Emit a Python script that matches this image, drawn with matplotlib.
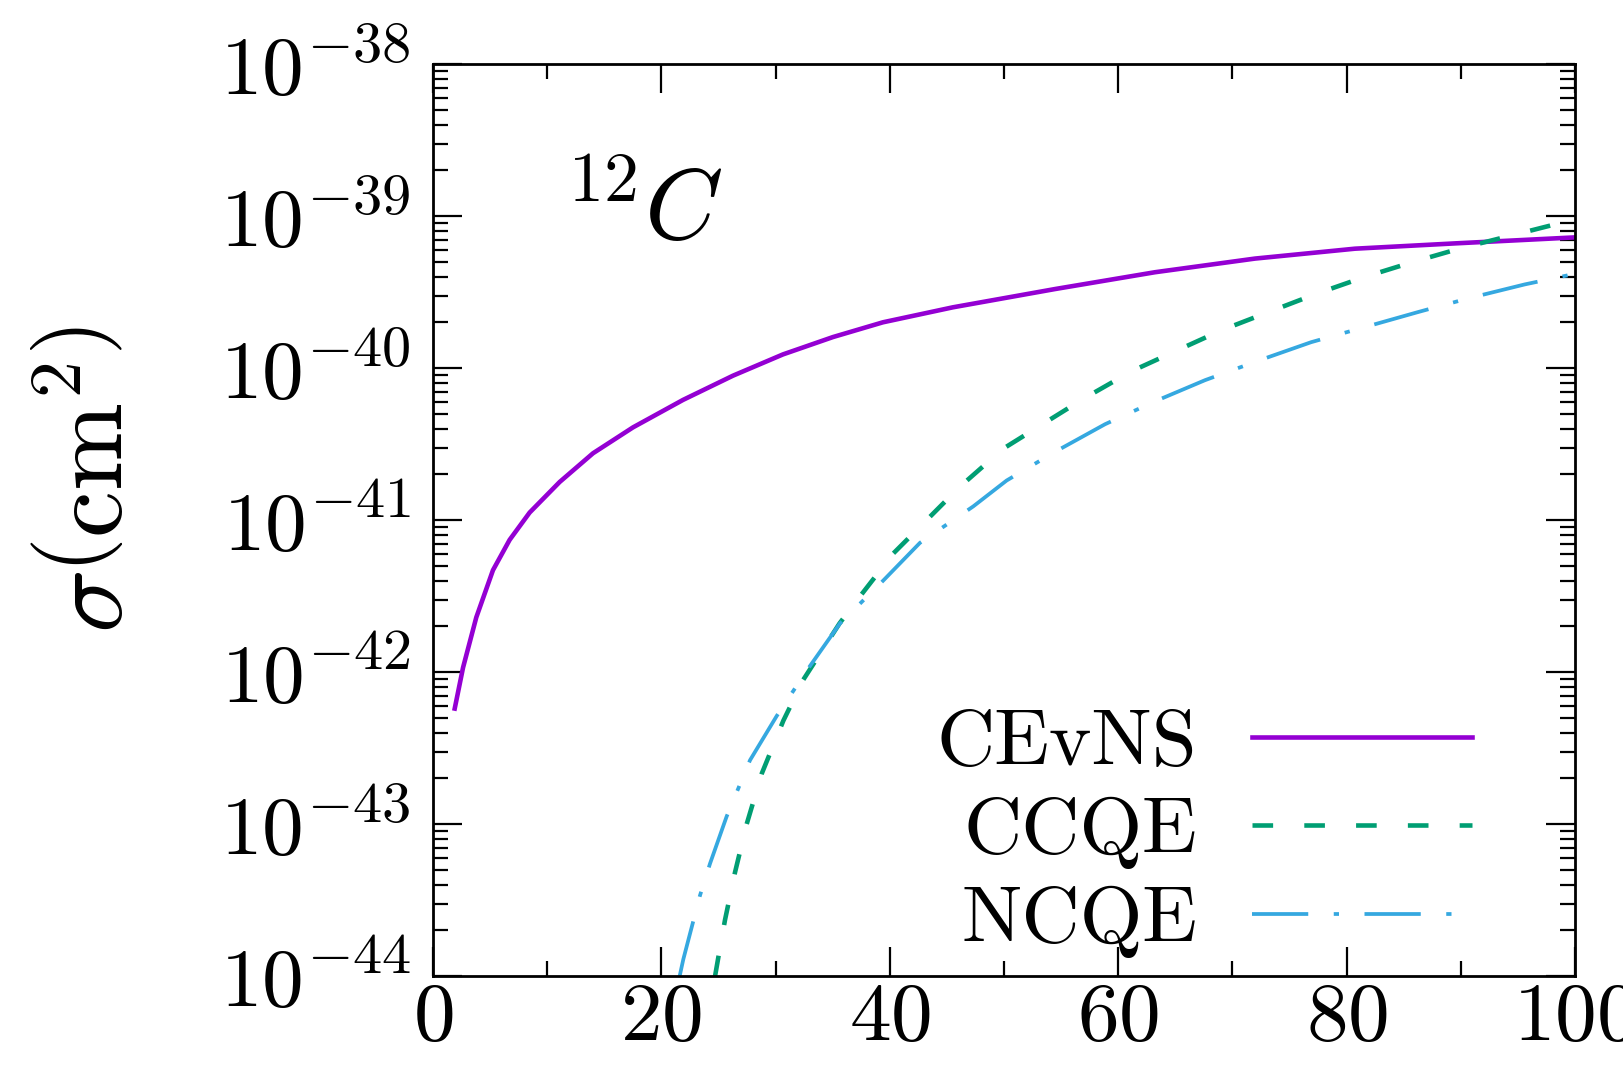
import numpy as np
import matplotlib
matplotlib.use("Agg")
import matplotlib.pyplot as plt
from matplotlib.ticker import MultipleLocator, LogLocator, NullFormatter

plt.rcParams['font.family'] = 'serif'
plt.rcParams['font.serif'] = ['cmr10']
plt.rcParams['mathtext.fontset'] = 'cm'
plt.rcParams['axes.formatter.use_mathtext'] = True
plt.rcParams['axes.unicode_minus'] = True

# neutrino energy (MeV) and cross sections (cm^2) on carbon-12
e_cevns = [1.9, 2.63, 3.79, 5.25, 6.71, 8.46, 11.09, 14.01, 17.51, 21.89,
           26.27, 30.65, 35.03, 39.4, 45.53, 54.47, 63.22, 71.97, 80.73,
           89.49, 100.0]
s_cevns = [5.75e-43, 1.07e-42, 2.29e-42, 4.68e-42, 7.41e-42, 1.12e-41,
           1.78e-41, 2.75e-41, 4.07e-41, 6.17e-41, 8.91e-41, 1.23e-40,
           1.6e-40, 2.0e-40, 2.51e-40, 3.31e-40, 4.27e-40, 5.25e-40,
           6.1e-40, 6.61e-40, 7.24e-40]

e_ccqe = [24.7, 24.98, 25.57, 26.44, 27.47, 28.78, 30.68, 32.43, 35.6, 37.1,
          40.31, 43.23, 46.15, 49.94, 57.0, 61.2, 65.0, 69.1, 73.2, 77.4,
          81.6, 85.9, 90.1, 94.3, 98.5, 100.0]
s_ccqe = [1.0e-44, 1.32e-44, 2.34e-44, 4.79e-44, 1.0e-43, 2.14e-43, 4.79e-43,
          8.91e-43, 2.09e-42, 2.95e-42, 6.03e-42, 1.0e-41, 1.66e-41,
          2.95e-41, 6.31e-41, 9.55e-41, 1.29e-40, 1.78e-40, 2.34e-40,
          3.09e-40, 3.98e-40, 5.01e-40, 6.17e-40, 7.41e-40, 8.91e-40,
          9.33e-40]

e_ncqe = [21.6, 21.92, 23.38, 24.26, 25.71, 27.76, 30.09, 32.72, 35.64,
          39.14, 42.64, 47.31, 50.23, 54.5, 58.85, 63.2, 67.6, 72.3, 76.9,
          81.6, 86.3, 90.7, 95.6, 100.0]
s_ncqe = [1.0e-44, 1.29e-44, 3.39e-44, 5.5e-44, 1.12e-43, 2.63e-43, 5.13e-43,
          1.02e-42, 2.09e-42, 3.8e-42, 7.08e-42, 1.23e-41, 1.82e-41,
          2.82e-41, 4.27e-41, 6.03e-41, 8.32e-41, 1.12e-40, 1.48e-40,
          1.86e-40, 2.34e-40, 2.88e-40, 3.55e-40, 4.17e-40]

fig = plt.figure(figsize=(16.23, 10.66), dpi=100)
ax = fig.add_axes([0.2668, 0.0844, 0.7036, 0.8555])

ax.plot(e_cevns, s_cevns, color='#9400D3', lw=3.3, label='CEvNS')
ax.plot(e_ccqe, s_ccqe, color='#009E73', lw=3.3, dashes=(4.5, 6.8),
        label='CCQE')
ax.plot(e_ncqe, s_ncqe, color='#35A8E0', lw=2.7, dashes=(15, 6.8, 1.4, 6.8),
        label='NCQE')

ax.set_yscale('log')
ax.set_xlim(0, 100)
ax.set_ylim(1e-44, 1e-38)

ax.xaxis.set_major_locator(MultipleLocator(20))
ax.xaxis.set_minor_locator(MultipleLocator(10))
ax.yaxis.set_major_locator(LogLocator(base=10, numticks=20))
ax.yaxis.set_minor_locator(LogLocator(base=10, subs=np.arange(2, 10), numticks=100))
ax.yaxis.set_minor_formatter(NullFormatter())

ax.tick_params(which='both', direction='in', top=True, right=True)
ax.tick_params(which='major', length=21, width=1.6, labelsize=60)
ax.tick_params(which='minor', length=11, width=1.6)
ax.tick_params(axis='x', which='major', pad=5)
ax.tick_params(axis='y', which='major', pad=16)
for sp in ax.spines.values():
    sp.set_linewidth(2.0)

ax.set_ylabel(r'$\sigma\left(\mathrm{cm}^2\right)$', fontsize=76)
ax.yaxis.set_label_coords(-0.255, 0.545)

ax.text(0.115, 0.807, r'$^{12}C$', fontsize=72, transform=ax.transAxes,
        va='baseline')

ax.legend(loc='lower right', bbox_to_anchor=(0.91, 0.02), frameon=False,
          markerfirst=False, fontsize=58, handlelength=2.73,
          handletextpad=0.68, labelspacing=0.2, borderpad=0,
          borderaxespad=0)

fig.savefig('out.png', dpi=100)
